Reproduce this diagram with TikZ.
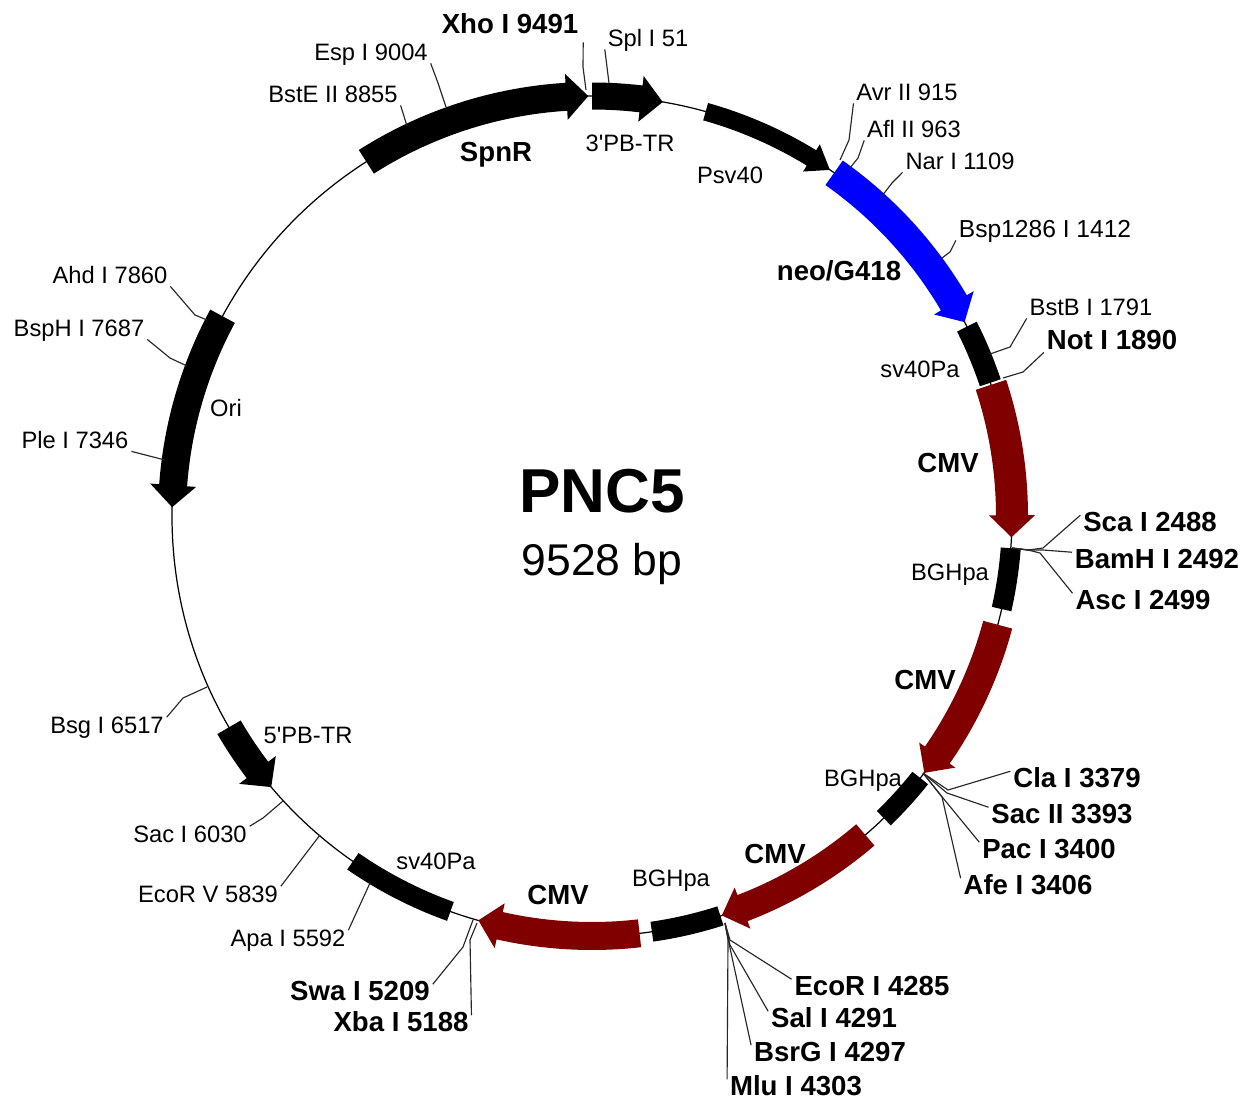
\documentclass[tikz,border=0pt]{standalone}
\usepackage{fontspec}
\setmainfont{Liberation Sans}
\newfontfamily\plainquote{Liberation Sans}
\definecolor{cmvred}{HTML}{800000}
\tikzset{
  sitelabel/.style={inner sep=1.5pt,yshift=-1.6pt,text height=.73em,text depth=.02em,font=\fontsize{13.5}{16}\selectfont},
  sitebold/.style={inner sep=1.5pt,yshift=-1.6pt,text height=.73em,text depth=.02em,font=\fontsize{15.7}{18}\selectfont\bfseries},
  leader/.style={line width=0.65pt,black!85}
}
% arc arrow: start angle, tip angle, body width, head width, colour
\newcommand{\genearrow}[5]{
  \pgfmathsetmacro{\neck}{#2-3*sign(#2-#1)}
  \fill[#5,shift={(592,516)}] (#1:420+#3/2) arc (#1:\neck:420+#3/2) -- (\neck:420+#4/2) -- (#2:420)
    -- (\neck:420-#4/2) -- (\neck:420-#3/2) arc (\neck:#1:420-#3/2) -- cycle;
}
% arc block without head: start angle, end angle, width
\newcommand{\geneblock}[3]{
  \fill[black,shift={(592,516)}] (#1:420+#3/2) arc (#1:#2:420+#3/2) -- (#2:420-#3/2) arc (#2:#1:420-#3/2) -- cycle;
}
\begin{document}
\begin{tikzpicture}[x=0.02cm,y=0.02cm,yscale=-1]
  \useasboundingbox (0,0) rectangle (1247,1099);
  \draw[line width=0.7pt] (592,516) circle (420);
  % features
  \genearrow{-122.5}{-90.5}{28}{46}{black}
  \genearrow{-90}{-80.3}{27}{46}{black}
  \genearrow{-74.3}{-55.5}{18}{32}{black}
  \genearrow{-54.8}{-27.5}{30}{46}{blue}
  \geneblock{-26.8}{-18.5}{22}
  \genearrow{-18.2}{2.9}{32}{46}{cmvred}
  \geneblock{4.4}{12.8}{20}
  \genearrow{15}{37.7}{30}{44}{cmvred}
  \geneblock{38.6}{46}{20}
  \genearrow{49.4}{72}{28}{44}{cmvred}
  \geneblock{72.2}{81.8}{20}
  \genearrow{83.5}{105.7}{28}{46}{cmvred}
  \geneblock{109.7}{124.7}{20}
  \genearrow{149.8}{139.8}{27}{46}{black}
  \genearrow{-151.6}{-178.8}{28}{46}{black}
  % centre title
  \node[font=\fontsize{35.3}{40}\selectfont\bfseries] (title) at (602,491) {PNC5};
  \node[font=\fontsize{25.3}{30}\selectfont] (size) at (602,564) {9528 bp};
  % feature names
  \node[sitebold] (spnr) at (496,152) {SpnR};
  \node[sitelabel] (pbthree) at (630,142) {3{\plainquote'}PB-TR};
  \node[sitelabel] (psv) at (730,174) {Psv40};
  \node[sitebold] (neo) at (839,271) {neo/G418};
  \node[sitelabel] (svright) at (920,368) {sv40Pa};
  \node[sitebold] (cmva) at (948,463) {CMV};
  \node[sitelabel] (bgha) at (950,571) {BGHpa};
  \node[sitebold] (cmvb) at (925,680) {CMV};
  \node[sitelabel] (bghb) at (863,777) {BGHpa};
  \node[sitebold] (cmvc) at (775,854) {CMV};
  \node[sitelabel] (bghc) at (671,877) {BGHpa};
  \node[sitebold] (cmvd) at (558,895) {CMV};
  \node[sitelabel] (svleft) at (436,860) {sv40Pa};
  \node[sitelabel] (pbfive) at (308,734) {5{\plainquote'}PB-TR};
  \node[sitelabel] (ori) at (226,407) {Ori};
  % enzyme names
  \node[sitebold] (xho) at (510,24) {Xho I 9491};
  \node[sitelabel] (spl) at (648,37) {Spl I 51};
  \node[sitelabel] (esp) at (371,51) {Esp I 9004};
  \node[sitelabel] (bste) at (333,93) {BstE II 8855};
  \node[sitelabel] (avr) at (907,91) {Avr II 915};
  \node[sitelabel] (afl) at (914,128) {Afl II 963};
  \node[sitelabel] (nar) at (960,160) {Nar I 1109};
  \node[sitelabel,font=\fontsize{14}{16}\selectfont] (bsp) at (1045,228) {Bsp1286 I 1412};
  \node[sitelabel] (bstb) at (1091,306) {BstB I 1791};
  \node[sitebold] (not) at (1112,340) {Not I 1890};
  \node[sitebold] (sca) at (1150,522) {Sca I 2488};
  \node[sitebold] (bam) at (1157,559) {BamH I 2492};
  \node[sitebold] (asc) at (1143,600) {Asc I 2499};
  \node[sitebold] (cla) at (1077,778) {Cla I 3379};
  \node[sitebold] (sac) at (1062,814) {Sac II 3393};
  \node[sitebold] (pac) at (1049,849) {Pac I 3400};
  \node[sitebold] (afe) at (1028,885) {Afe I 3406};
  \node[sitebold] (ecoi) at (872,986) {EcoR I 4285};
  \node[sitebold] (sal) at (834,1018) {Sal I 4291};
  \node[sitebold] (bsrg) at (830,1052) {BsrG I 4297};
  \node[sitebold] (mlu) at (796,1086) {Mlu I 4303};
  \node[sitebold] (swa) at (360,991) {Swa I 5209};
  \node[sitebold] (xba) at (401,1022) {Xba I 5188};
  \node[sitelabel] (apa) at (288,937) {Apa I 5592};
  \node[sitelabel] (ecov) at (208,893) {EcoR V 5839};
  \node[sitelabel] (saci) at (190,833) {Sac I 6030};
  \node[sitelabel] (bsg) at (107,724) {Bsg I 6517};
  \node[sitelabel] (ple) at (75,439) {Ple I 7346};
  \node[sitelabel] (bsph) at (79,327) {BspH I 7687};
  \node[sitelabel] (ahd) at (110,274) {Ahd I 7860};
  % sites on the circle
  \coordinate (sxho) at (586,90);
  \coordinate (sspl) at (609,83);
  \coordinate (sesp) at (446,107);
  \coordinate (sbste) at (407,126);
  \coordinate (savr) at (840,160);
  \coordinate (safl) at (850,168);
  \coordinate (snar) at (882,196);
  \coordinate (sbsp) at (942,258);
  \coordinate (sbstb) at (990,354);
  \coordinate (snot) at (1003,378);
  \coordinate (sthree) at (1012,548);
  \coordinate (scla) at (923,773);
  \coordinate (secoi) at (725,923);
  \coordinate (sswa) at (473,920);
  \coordinate (sxba) at (477,923);
  \coordinate (sapa) at (370,883);
  \coordinate (secov) at (320,835);
  \coordinate (ssaci) at (283,801);
  \coordinate (sbsg) at (207,687);
  \coordinate (sple) at (165,460);
  \coordinate (sbsph) at (187,366);
  \coordinate (sahd) at (207,320);
  % leaders
  \draw[leader] ([shift={(2,6)}]xho.south east) -- (583,67) -- (sxho);
  \draw[leader] (spl.south west) -- (sspl);
  \draw[leader] (esp.south east) -- (438,83) -- (sesp);
  \draw[leader] (bste.south east) -- (sbste);
  \draw[leader] (avr.south west) -- (849,140) -- (savr);
  \draw[leader] (afl.south west) -- (858,158) -- (safl);
  \draw[leader] (nar.south west) -- (892,183) -- (snar);
  \draw[leader] (bsp.south west) -- (950,252) -- (sbsp);
  \draw[leader] (bstb.south west) -- (1010,347) -- (sbstb);
  \draw[leader] (not.south west) -- (1023,372) -- (snot);
  \draw[leader] (sca.north west) -- (1043,548) -- (1028,550) -- (sthree);
  \draw[leader] (bam.north west) -- (1043,550) -- (1028,550) -- (sthree);
  \draw[leader] (asc.north west) -- (1040,553) -- (1028,550) -- (sthree);
  \draw[leader] (cla.north west) -- (948,790) -- (scla);
  \draw[leader] (sac.north west) -- (947,793) -- (scla);
  \draw[leader] (pac.north west) -- (943,798) -- (scla);
  \draw[leader] (afe.north west) -- (942,797) -- (scla);
  \draw[leader] (ecoi.north west) -- (730,940) -- (secoi);
  \draw[leader] (sal.north west) -- (730,945) -- (secoi);
  \draw[leader] (bsrg.north west) -- (730,948) -- (secoi);
  \draw[leader] (mlu.north west) -- (728,940) -- (secoi);
  \draw[leader] (swa.north east) -- (463,947) -- (sswa);
  \draw[leader] (xba.north east) -- (470,940) -- (sxba);
  \draw[leader] (apa.north east) -- (sapa);
  \draw[leader] (ecov.north east) -- (secov);
  \draw[leader] (saci.north east) -- (263,818) -- (ssaci);
  \draw[leader] (bsg.north east) -- (183,698) -- (sbsg);
  \draw[leader] (ple.south east) -- (sple);
  \draw[leader] (bsph.south east) -- (170,358) -- (sbsph);
  \draw[leader] (ahd.south east) -- (195,315) -- (sahd);
\end{tikzpicture}
\end{document}
